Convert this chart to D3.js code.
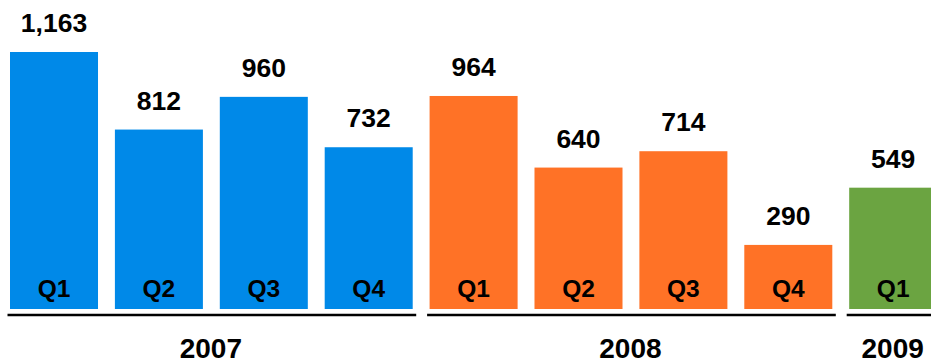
<!DOCTYPE html>
<html>
<head>
<meta charset="utf-8">
<script src="https://cdn.jsdelivr.net/npm/d3@7"></script>
<style>
  body { margin: 0; background: #fff; }
  svg { display: block; font-family: "Liberation Sans", Arial, sans-serif; font-weight: bold; }
</style>
</head>
<body>
<svg width="931" height="359"></svg>
<script>
var quarters = ["Q1", "Q2", "Q3", "Q4", "Q1", "Q2", "Q3", "Q4", "Q1"];
var years = ["2007", "2007", "2007", "2007", "2008", "2008", "2008", "2008", "2009"];
var values = [1163, 812, 960, 732, 964, 640, 714, 290, 549];
var yearList = ["2007", "2008", "2009"];
var yearColors = ["#0089e8", "#ff7226", "#6ba441"];

var data = values.map((v, i) => ({ i: i, q: quarters[i], year: years[i], value: v }));

var svg = d3.select("svg");

var baseY = 309;

var xScale = d3.scaleBand()
      .domain(d3.range(values.length))
      .range([10, 937.2])
      .paddingInner(0.161)
      .paddingOuter(0);

var yScale = d3.scaleLinear()
      .domain([0, 1163])
      .range([baseY, 52]);

var color = d3.scaleOrdinal()
      .domain(yearList)
      .range(yearColors);

var bars = svg.append("g");

bars.selectAll("rect")
      .data(data)
      .enter()
      .append("rect")
      .attr("x", d => xScale(d.i))
      .attr("y", d => yScale(d.value))
      .attr("width", xScale.bandwidth())
      .attr("height", d => baseY - yScale(d.value))
      .attr("fill", d => color(d.year));

// value labels above bars
bars.selectAll("text.value")
      .data(data)
      .enter()
      .append("text")
      .attr("class", "value")
      .attr("x", d => xScale(d.i) + xScale.bandwidth() / 2)
      .attr("y", d => yScale(d.value) - 20)
      .attr("text-anchor", "middle")
      .attr("font-size", 26.5)
      .text(d => d3.format(",")(d.value));

// quarter labels inside bars
bars.selectAll("text.q")
      .data(data)
      .enter()
      .append("text")
      .attr("class", "q")
      .attr("x", d => xScale(d.i) + xScale.bandwidth() / 2)
      .attr("y", baseY - 12)
      .attr("text-anchor", "middle")
      .attr("font-size", 24.5)
      .text(d => d.q);

// year groups: underline + label
var groups = yearList.map(y => {
  var idx = data.filter(d => d.year === y).map(d => d.i);
  return {
    year: y,
    x0: xScale(d3.min(idx)) - 2.5,
    x1: xScale(d3.max(idx)) + xScale.bandwidth() + 3.5
  };
});

svg.append("g")
      .selectAll("line")
      .data(groups)
      .enter()
      .append("line")
      .attr("x1", d => d.x0)
      .attr("x2", d => d.x1)
      .attr("y1", 315)
      .attr("y2", 315)
      .attr("stroke", "#000")
      .attr("stroke-width", 2.5);

svg.append("g")
      .selectAll("text")
      .data(groups)
      .enter()
      .append("text")
      .attr("x", d => (d.x0 + d.x1) / 2 - 1)
      .attr("y", 358)
      .attr("text-anchor", "middle")
      .attr("font-size", 28)
      .text(d => d.year);
</script>
</body>
</html>
